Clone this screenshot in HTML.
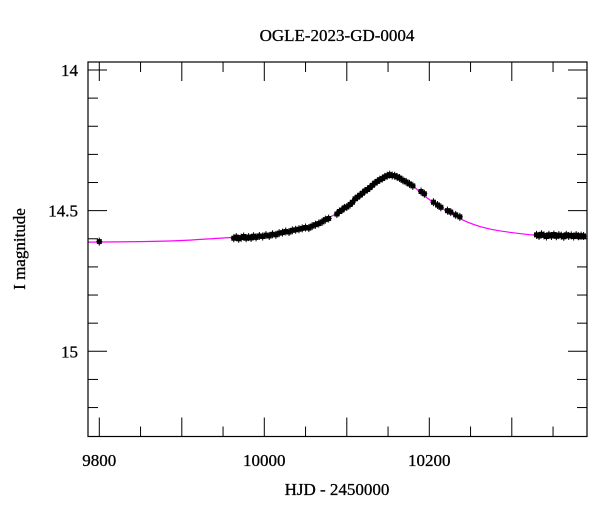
<!DOCTYPE html>
<html><head><meta charset="utf-8"><style>
html,body{margin:0;padding:0;background:#fff;}
svg{display:block;font-family:"Liberation Serif",serif;}
</style></head><body>
<svg id="chart" width="600" height="512" viewBox="0 0 600 512">
<rect x="0" y="0" width="600" height="512" fill="#fff"/>
<text x="337" y="41" font-size="17" text-anchor="middle" stroke="#000" stroke-width="0.3">OGLE-2023-GD-0004</text>
<text x="337" y="495" font-size="17" text-anchor="middle" stroke="#000" stroke-width="0.3">HJD - 2450000</text>
<text transform="translate(25,249) rotate(-90)" font-size="17" text-anchor="middle" stroke="#000" stroke-width="0.3">I magnitude</text>
<g id="ticks"></g>
<g id="model"></g>
<g id="points"></g>
<rect x="88" y="62" width="499" height="374.5" fill="none" stroke="#000" stroke-width="1.2"/>
</svg>
<script>
const modelT=[9786,9850,9900,9945,9986,10027,10050,10067,10088,10107,10128,10140,10152,10164,10180,10197,10221,10241,10261,10280,10300,10320,10340,10365,10391];
const modelM=[14.612,14.610,14.606,14.598,14.590,14.572,14.557,14.538,14.510,14.471,14.418,14.390,14.373,14.380,14.412,14.454,14.501,14.534,14.556,14.569,14.578,14.585,14.590,14.594,14.597];
const obsT=[9800,9963,9966,9969,9972,9975,9978,9981,9984,9987,9990,9994,9998,10002,10006,10010,10014,10018,10022,10026,10030,10034,10038,10042,10046,10050,10054,10058,10062,10066,10070,10074,10078,
10088,10091,10094,10097,10100,10104,10107,10110,10113,10116,10119,10122,10125,10128,10131,10134,10137,10140,10143,10146,10149,10152,10155,10158,10161,10164,10168,10172,10176,10180,10190,10194,10205,10210,10214,10222,10226,10232,10237,
10330,10333,10336,10339,10342,10345,10348,10351,10354,10357,10360,10363,10366,10369,10372,10375,10378,10381,10384,10387];
const obsM=[14.610,14.598,14.594,14.600,14.596,14.592,14.598,14.594,14.597,14.591,14.595,14.590,14.592,14.587,14.590,14.584,14.586,14.580,14.578,14.574,14.576,14.570,14.568,14.566,14.563,14.560,14.562,14.555,14.550,14.546,14.540,14.532,14.528,
14.512,14.503,14.498,14.490,14.487,14.478,14.470,14.458,14.452,14.445,14.438,14.430,14.425,14.418,14.410,14.402,14.396,14.390,14.386,14.380,14.376,14.372,14.375,14.376,14.380,14.384,14.392,14.398,14.405,14.412,14.432,14.440,14.470,14.480,14.488,14.500,14.505,14.515,14.522,
14.586,14.590,14.584,14.588,14.592,14.586,14.590,14.585,14.591,14.587,14.589,14.593,14.586,14.590,14.588,14.592,14.587,14.591,14.589,14.590];
const xTickLabels=[9800,10000,10200];
const yTickLabels=[14,14.5,15];
const NS="http://www.w3.org/2000/svg";
const L=88,R=587,T=62,B=436.5;
function xs(t){return 99.3+(t-9800)*0.825;}
function ys(m){return 70+(m-14)*281.3;}
function mk(tag,attrs,parent){const e=document.createElementNS(NS,tag);for(const k in attrs)e.setAttribute(k,attrs[k]);parent.appendChild(e);return e;}
const tg=document.getElementById('ticks');
for(let t=9800;t<=10390;t+=50){
  const major=(t%100===0);const len=major?19:10;const x=xs(t);
  let a=mk('line',{x1:x,x2:x,y1:B,y2:B-len,stroke:'#000','stroke-width':1},tg);
  
  
  let b=mk('line',{x1:x,x2:x,y1:T,y2:T+len,stroke:'#000','stroke-width':1},tg);
  
  
}
for(let i=0;i<=13;i++){
  const m=14+i*0.1;const y=ys(m);if(y>B-1)break;
  const major=(i%5===0);const len=major?19:10;
  let a=mk('line',{x1:L,x2:L+len,y1:y,y2:y,stroke:'#000','stroke-width':1},tg);
  
  
  let b=mk('line',{x1:R,x2:R-len,y1:y,y2:y,stroke:'#000','stroke-width':1},tg);
  
  
}
xTickLabels.forEach(v=>{
  const e=mk('text',{x:xs(v),y:466,'font-size':17,'text-anchor':'middle',stroke:'#000','stroke-width':0.3},tg);e.textContent=v;
  
  
});
yTickLabels.forEach(v=>{
  const e=mk('text',{x:78,y:ys(v)+6,'font-size':17,'text-anchor':'end',stroke:'#000','stroke-width':0.3},tg);e.textContent=String(v);
  
  
});
const mg=document.getElementById('model');
const P=modelT.map((t,i)=>[xs(t),ys(modelM[i])]);
let d='M'+P[0][0].toFixed(2)+' '+P[0][1].toFixed(2);
for(let i=0;i<P.length-1;i++){
  const p0=P[Math.max(0,i-1)],p1=P[i],p2=P[i+1],p3=P[Math.min(P.length-1,i+2)];
  const c1=[p1[0]+(p2[0]-p0[0])/6,p1[1]+(p2[1]-p0[1])/6];
  const c2=[p2[0]-(p3[0]-p1[0])/6,p2[1]-(p3[1]-p1[1])/6];
  d+=' C'+c1[0].toFixed(2)+' '+c1[1].toFixed(2)+' '+c2[0].toFixed(2)+' '+c2[1].toFixed(2)+' '+p2[0].toFixed(2)+' '+p2[1].toFixed(2);
}
const ml=mk('path',{d:d,fill:'none',stroke:'#ff00ff','stroke-width':1.2},mg);


const pg=document.getElementById('points');
obsT.forEach((t,i)=>{
  const x=xs(t),y=ys(obsM[i]);
  const g=mk('g',{},pg);
  
  
  mk('line',{x1:x,x2:x,y1:y-4,y2:y+4,stroke:'#000','stroke-width':1},g);
  mk('line',{x1:x-3,x2:x+3,y1:y,y2:y,stroke:'#000','stroke-width':1},g);
  mk('rect',{x:x-2.5,y:y-2.5,width:5,height:5,fill:'#000'},g);
});
</script>
</body></html>
